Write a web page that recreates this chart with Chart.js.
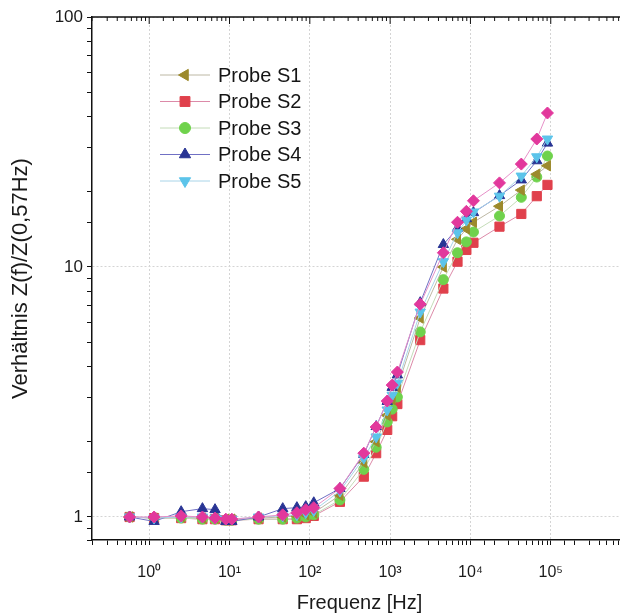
<!DOCTYPE html>
<html>
<head>
  <title>Verhältnis Z(f)/Z(0,57Hz)</title>
  <style>
    html, body { margin: 0; padding: 0; overflow: hidden; background: #fff; }
    #wrap { width: 645px; height: 615px; }
  </style>
</head>
<body>
  <div id="wrap"><canvas id="chart" width="645" height="615"></canvas></div>

  <script src="https://cdn.jsdelivr.net/npm/chart.js"></script>
  <script>
    // frequencies in Hz
    const freqs = [0.57, 1.15, 2.5, 4.6, 6.6, 9.0, 10.7, 23, 46, 69, 89, 112, 237, 470, 670, 920, 1060, 1230,
                   2370, 4600, 6900, 8900, 10900, 23000, 43000, 67000, 91000];

    const probeS1 = [1.0, 0.99, 1.0, 0.99, 0.99, 0.98, 0.98, 0.99, 1.0, 1.01, 1.02, 1.04, 1.22, 1.65, 2.0, 2.55, 2.95, 3.3,
                     6.25, 10.0, 12.9, 14.2, 15.1, 17.5, 20.3, 23.5, 25.4];
    const probeS2 = [1.0, 0.99, 0.99, 0.98, 0.98, 0.97, 0.97, 0.98, 0.98, 0.98, 0.99, 1.01, 1.15, 1.45, 1.8, 2.23, 2.53, 2.83,
                     5.1, 8.2, 10.5, 11.7, 12.5, 14.5, 16.3, 19.2, 21.3];
    const probeS3 = [1.0, 0.99, 0.99, 0.98, 0.98, 0.97, 0.97, 0.98, 0.98, 0.99, 1.0, 1.02, 1.17, 1.55, 1.9, 2.4, 2.7, 3.02,
                     5.5, 8.9, 11.4, 12.6, 13.8, 16.0, 19.0, 22.9, 27.8];
    const probeS4 = [1.0, 0.96, 1.05, 1.08, 1.07, 0.96, 0.96, 1.0, 1.08, 1.09, 1.1, 1.14, 1.3, 1.78, 2.3, 2.9, 3.3, 3.7,
                     7.2, 12.3, 14.3, 15.6, 16.5, 19.3, 22.3, 26.6, 31.3];
    const probeS5 = [1.0, 0.99, 1.0, 1.0, 0.99, 0.98, 0.98, 1.0, 1.01, 1.02, 1.04, 1.06, 1.27, 1.72, 2.09, 2.68, 3.07, 3.43,
                     6.6, 10.5, 13.7, 15.4, 16.6, 19.2, 23.1, 27.6, 32.5];
    const probeS6 = [1.0, 1.0, 1.01, 1.0, 0.99, 0.98, 0.98, 1.0, 1.02, 1.04, 1.07, 1.09, 1.3, 1.8, 2.29, 2.91, 3.37, 3.8,
                     7.1, 11.4, 15.1, 16.7, 18.4, 21.7, 25.8, 32.5, 41.3];

    const yTicks = [1, 10, 100];
    const legendNames = ['Probe S1', 'Probe S2', 'Probe S3', 'Probe S4', 'Probe S5'];

    const toPoints = vals => vals.map((v, i) => ({ x: freqs[i], y: v }));
    const isPow10 = v => Math.abs(Math.log10(v) - Math.round(Math.log10(v))) < 1e-6;
    const sup = { '0': '⁰', '1': '¹', '2': '²', '3': '³', '4': '⁴', '5': '⁵', '6': '⁶', '-': '⁻' };

    function series(label, vals, color, line, style, radius, rotation, order) {
      return {
        label: label,
        data: toPoints(vals),
        borderColor: line,
        borderWidth: 1,
        backgroundColor: color,
        pointBackgroundColor: color,
        pointBorderColor: color,
        pointBorderWidth: 1,
        pointStyle: style,
        pointRadius: radius,
        pointRotation: rotation,
        tension: 0,
        order: order
      };
    }

    const datasets = [
      series('Probe S1', probeS1, '#9c8a2c', '#bdb8a4', 'triangle', 6, -90, 3),
      series('Probe S2', probeS2, '#e0404c', '#dc8aa8', 'rect', 6.5, 0, 5),
      series('Probe S3', probeS3, '#6fd24c', '#c4dcb8', 'circle', 5, 0, 4),
      series('Probe S4', probeS4, '#283494', '#7070c4', 'triangle', 6, 0, 2),
      series('Probe S5', probeS5, '#5cc4ea', '#a8d4e8', 'triangle', 6, 180, 1),
      series('Probe S6', probeS6, '#e2389c', '#e690c8', 'rectRot', 6, 0, 0)
    ];

    // frame on top + inward ticks, and the legend box inside the plot
    const framePlugin = {
      id: 'frame',
      afterDraw(chart) {
        const ctx = chart.ctx;
        const a = chart.chartArea;
        const xs = chart.scales.x;
        ctx.save();
        ctx.strokeStyle = '#111';
        ctx.lineWidth = 1.5;
        ctx.beginPath();
        ctx.moveTo(a.left, a.top);
        ctx.lineTo(a.right, a.top);
        ctx.stroke();
        ctx.lineWidth = 1;
        xs.ticks.forEach(t => {
          const px = xs.getPixelForValue(t.value);
          const len = isPow10(t.value) ? 7 : 4;
          ctx.beginPath();
          ctx.moveTo(px, a.top);
          ctx.lineTo(px, a.top + len);
          ctx.stroke();
        });

        // legend
        ctx.font = '20px "Liberation Sans", Arial, sans-serif';
        ctx.textBaseline = 'middle';
        legendNames.forEach((name, i) => {
          const ds = chart.data.datasets.find(d => d.label === name);
          const y = a.top + 58 + i * 26.5;
          ctx.strokeStyle = ds.borderColor;
          ctx.lineWidth = 1;
          ctx.beginPath();
          ctx.moveTo(160, y);
          ctx.lineTo(210, y);
          ctx.stroke();
          ctx.fillStyle = ds.pointBackgroundColor;
          ctx.strokeStyle = ds.pointBorderColor;
          Chart.helpers.drawPoint(ctx, {
            pointStyle: ds.pointStyle,
            radius: ds.pointRadius + 0.5,
            rotation: ds.pointRotation,
            borderWidth: 1
          }, 185, y);
          ctx.fillStyle = '#151515';
          ctx.fillText(name, 218, y + 1);
        });
        ctx.restore();
      }
    };

    const font = '"Liberation Sans", Arial, sans-serif';

    new Chart(document.getElementById('chart').getContext('2d'), {
      type: 'line',
      data: { datasets: datasets },
      options: {
        responsive: false,
        animation: false,
        layout: { padding: { top: 17, left: 0, right: 0, bottom: 0 } },
        plugins: {
          legend: { display: false },
          tooltip: { enabled: false }
        },
        scales: {
          x: {
            type: 'logarithmic',
            min: 0.194,
            max: 890000,
            afterFit: s => { s.height = 75; },
            border: { display: true, color: '#111', width: 1.5, dash: [2, 2] },
            grid: {
              color: c => (c.tick && isPow10(c.tick.value)) ? '#d4d4d4' : 'rgba(0,0,0,0)',
              tickColor: '#111',
              tickLength: 5,
              lineWidth: 1
            },
            ticks: {
              autoSkip: false,
              maxRotation: 0,
              padding: 18,
              color: '#1a1a1a',
              font: { family: font, size: 16 },
              callback: v => {
                if (!isPow10(v)) return '';
                const e = String(Math.round(Math.log10(v)));
                return '10' + e.split('').map(ch => sup[ch]).join('');
              }
            },
            title: {
              display: true,
              text: 'Frequenz [Hz]',
              color: '#1a1a1a',
              font: { family: font, size: 20 },
              padding: { top: 0, bottom: 0 }
            }
          },
          y: {
            type: 'logarithmic',
            min: 0.809,
            max: 100,
            afterFit: s => { s.width = 92; },
            border: { display: true, color: '#111', width: 1.5, dash: [2, 2] },
            grid: {
              color: c => (c.tick && isPow10(c.tick.value)) ? '#d4d4d4' : 'rgba(0,0,0,0)',
              tickColor: '#111',
              tickLength: 5,
              lineWidth: 1
            },
            ticks: {
              autoSkip: false,
              padding: 4,
              color: '#1a1a1a',
              font: { family: font, size: 17 },
              callback: v => yTicks.some(t => Math.abs(t - v) < 1e-6) ? String(v) : ''
            },
            title: {
              display: true,
              text: 'Verhältnis Z(f)/Z(0,57Hz)',
              color: '#1a1a1a',
              font: { family: font, size: 22 },
              padding: { top: 8, bottom: 0 }
            }
          }
        }
      },
      plugins: [framePlugin]
    });
  </script>
</body>
</html>
